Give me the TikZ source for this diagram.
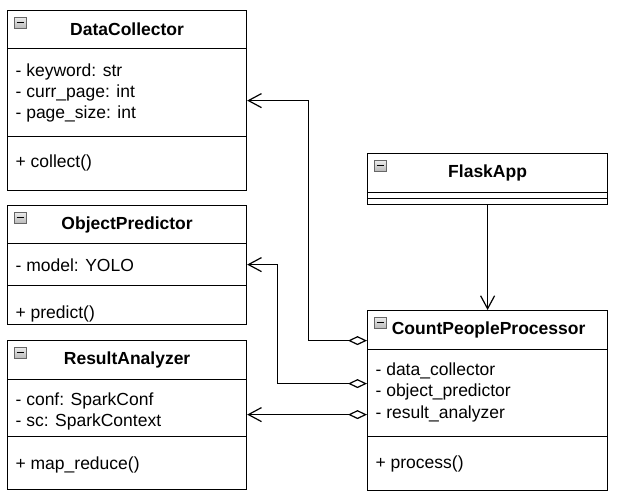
\documentclass[tikz,border=0pt]{standalone}
\usepackage{fontspec}
\setmainfont{Liberation Sans}
\usetikzlibrary{arrows.meta,calc}
\begin{document}
\begin{tikzpicture}[x=1pt,y=-1pt,line width=1.2pt,
  comp/.style={draw=black,rectangle,inner sep=0pt,anchor=north west,minimum width=239pt},
  hdr/.style={comp,font=\fontsize{17.5}{21}\selectfont\bfseries},
  attr/.style={anchor=west,inner sep=0pt,yshift=-1.5pt,font=\fontsize{17.5}{21}\selectfont},
  icon/.style={rectangle,inner sep=0pt,anchor=north west,minimum width=12pt,minimum height=11pt,
    draw=gray!80!black,line width=0.6pt,top color=gray!15,bottom color=gray!55},
  assoc/.style={-{Straight Barb[length=13pt,width=14pt]}},
  aggr/.style={{Diamond[length=19pt,width=9pt,fill=white]}-{Straight Barb[length=13pt,width=14pt]}}
]
\useasboundingbox (0,0) rectangle (618,497);
% icon minus sign
\newcommand{\minusicon}[2]{%
  \node[icon] (#1) at (#2) {};
  \draw[line width=1.2pt] ([xshift=2.5pt]#1.west) -- ([xshift=-2.5pt]#1.east);}

% DataCollector
\node[hdr,minimum height=38pt] (dch) at (7,10) {DataCollector};
\node[comp,minimum height=88pt] (dca) at (7,48) {};
\node[comp,minimum height=54pt] (dcm) at (7,136) {};
\minusicon{dci}{14,17}
\node[attr] (dc1) at (15,70) {- keyword: str};
\node[attr] (dc2) at (15,91) {- curr\_page: int};
\node[attr] (dc3) at (15,112) {- page\_size: int};
\node[attr] (dc4) at (15,161) {+ collect()};

% ObjectPredictor
\node[hdr,minimum height=38pt] (oph) at (7,205) {ObjectPredictor};
\node[comp,minimum height=42pt] (opa) at (7,243) {};
\node[comp,minimum height=39pt] (opm) at (7,285) {};
\minusicon{opi}{14,212}
\node[attr] (op1) at (15,264) {- model: YOLO};
\node[attr] (op2) at (15,312) {+ predict()};

% ResultAnalyzer
\node[hdr,minimum height=39pt] (rah) at (7,340) {ResultAnalyzer};
\node[comp,minimum height=57pt] (raa) at (7,379) {};
\node[comp,minimum height=53pt] (ram) at (7,436) {};
\minusicon{rai}{14,347}
\node[attr] (ra1) at (15,399) {- conf: SparkConf};
\node[attr] (ra2) at (15,420) {- sc: SparkContext};
\node[attr] (ra3) at (15,463) {+ map\_reduce()};

% FlaskApp
\node[hdr,minimum width=240pt,minimum height=39pt] (fah) at (367,153) {FlaskApp};
\node[comp,minimum width=240pt,minimum height=6pt] (faa) at (367,192) {};
\node[comp,minimum width=240pt,minimum height=6pt] (fam) at (367,198) {};
\minusicon{fai}{374,160}

% CountPeopleProcessor
\node[hdr,minimum width=240pt,minimum height=39pt] (cph) at (367,310) {\hspace*{2pt}CountPeopleProcessor};
\node[comp,minimum width=240pt,minimum height=87pt] (cpa) at (367,349) {};
\node[comp,minimum width=240pt,minimum height=54pt] (cpm) at (367,436) {};
\minusicon{cpi}{374,317}
\node[attr] (cp1) at (375,369) {- data\_collector};
\node[attr] (cp2) at (375,390) {- object\_predictor};
\node[attr] (cp3) at (375,412) {- result\_analyzer};
\node[attr] (cp4) at (375,462) {+ process()};

% connectors
\draw[assoc] (fam.south) -- (cph.north);
\coordinate (t1) at ([yshift=-8pt]dca.east);
\draw[aggr] ([yshift=-10.5pt]cph.west) -| ($(t1)+(61,0)$) -- (t1);
\coordinate (t2) at (opa.east);
\draw[aggr] ([yshift=9.5pt]cpa.west) -| ($(t2)+(30,0)$) -- (t2);
\coordinate (t3) at ([yshift=-6.5pt]raa.east);
\draw[aggr] (t3 -| cpa.west) -- (t3);
\end{tikzpicture}
\end{document}
